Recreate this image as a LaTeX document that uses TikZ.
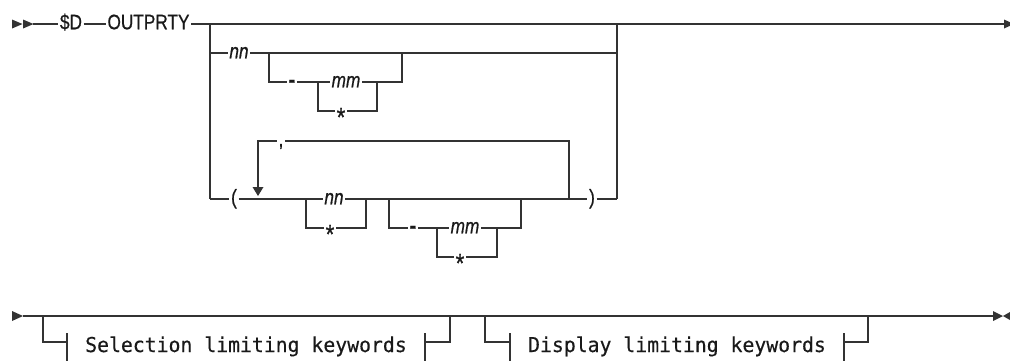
\documentclass[tikz,border=0pt]{standalone}
\usepackage{fontspec}
\newfontfamily\rrsans[FakeStretch=0.82, FakeBold=0.6]{Liberation Sans}
\newfontfamily\rrmono[FakeStretch=0.965, FakeBold=0.4]{DejaVu Sans Mono}
\usetikzlibrary{positioning}
\definecolor{railgray}{gray}{0.2}
\tikzset{
  rail/.style={draw=railgray, line width=1.2pt},
  kw/.style={font=\fontsize{21}{23}\rrsans, text=black!90, inner xsep=1.5pt, inner ysep=0pt, text height=10.5pt, text depth=0pt},
  var/.style={kw, font=\fontsize{21}{23}\rrsans\itshape},
  starnode/.style={kw, font=\fontsize{27}{29}\rrsans, text height=31pt},
  dashnode/.style={kw, font=\fontsize{24}{26}\rrsans\bfseries, text height=11pt},
  frag/.style={font=\fontsize{20.5}{22}\rrmono, text=black!90, inner xsep=18pt, inner ysep=0pt, text height=20pt, text depth=0pt},
  tip/.style={fill=railgray, draw=none},
}

\begin{document}
\begin{tikzpicture}[x=1pt, y=-1pt]
  \useasboundingbox (0,0) rectangle (1010,360);
  % first line
  \fill[tip] (12,19.5) -- (22.5,24) -- (12,28.5) -- cycle;
  \fill[tip] (23,19.5) -- (33.5,24) -- (23,28.5) -- cycle;
  \node[kw] (sd) at (71,24) {\$D};
  \node[kw] (outprty) at (148.5,24) {OUTPRTY};
  \draw[rail] (33,24) -- (sd.west);
  \draw[rail] (sd) -- (outprty);
  \draw[rail] (outprty.east) -- (1004,24);
  \fill[tip] (1004,19.5) -- (1014,24) -- (1004,28.5) -- cycle;
  \draw[rail] (210,24) -- (210,199);
  \draw[rail] (617,24) -- (617,199);

  % nn [- mm|*]
  \node[var] (nn) at (239,53) {nn};
  \node[dashnode] (dash) at (292,82) {-};
  \node[var] (mm) at (346,82) {mm};
  \node[starnode] (mmstar) at (341,111) {*};
  \draw[rail] (210,53) -- (nn.west);
  \draw[rail] (nn.east) -- (617,53);
  \draw[rail] (269,53) |- (dash.west);
  \draw[rail] (dash.east) -- (mm.west);
  \draw[rail] (mm.east) -- (402,82) -- (402,53);
  \draw[rail] (318,82) |- (mmstar.west);
  \draw[rail] (mmstar.east) -| (377,82);

  % ( nn|* [- mm|*] , ... )
  \node[kw] (lparen) at (234,199) {(};
  \node[kw] (comma) at (281,141) {,};
  \node[var] (nn2) at (334,199) {nn};
  \node[starnode] (nnstar) at (330,228) {*};
  \node[dashnode] (dash2) at (413,228) {-};
  \node[var] (mm2) at (465,228) {mm};
  \node[starnode] (mmstar2) at (460,257) {*};
  \node[kw] (rparen) at (592,199) {)};
  \draw[rail] (210,199) -- (lparen.west);
  \draw[rail] (lparen.east) -- (nn2.west);
  \draw[rail] (nn2.east) -- (rparen.west);
  \draw[rail] (rparen.east) -- (617,199);
  \draw[rail] (306,199) |- (nnstar.west);
  \draw[rail] (nnstar.east) -| (366,199);
  \draw[rail] (389,199) |- (dash2.west);
  \draw[rail] (dash2.east) -- (mm2.west);
  \draw[rail] (mm2.east) -- (521,228) -- (521,199);
  \draw[rail] (437,228) |- (mmstar2.west);
  \draw[rail] (mmstar2.east) -| (497,228);
  % repeat loop
  \draw[rail] (569,199) |- (comma.east);
  \draw[rail] (comma.west) -| (258,188);
  \fill[tip] (252.5,187) -- (263.5,187) -- (258,196) -- cycle;

  % second line
  \fill[tip] (12,311) -- (23,316) -- (12,321) -- cycle;
  \draw[rail] (23,316) -- (993,316);
  \fill[tip] (993,311) -- (1003,316) -- (993,321) -- cycle;
  \fill[tip] (1010,312) -- (1003,316) -- (1010,320) -- cycle;
  \node[frag] (selkw) at (246,342) {Selection limiting keywords};
  \node[frag] (dispkw) at (677,342) {Display limiting keywords};
  \draw[rail] (43,316) |- (selkw.west);
  \draw[rail] (selkw.east) -| (450,316);
  \draw[rail] (485,316) |- (dispkw.west);
  \draw[rail] (dispkw.east) -| (868,316);
  \foreach \n in {selkw.west, selkw.east, dispkw.west, dispkw.east}
    \draw[rail] ([yshift=9pt]\n) -- ([yshift=-20pt]\n);
\end{tikzpicture}
\end{document}
